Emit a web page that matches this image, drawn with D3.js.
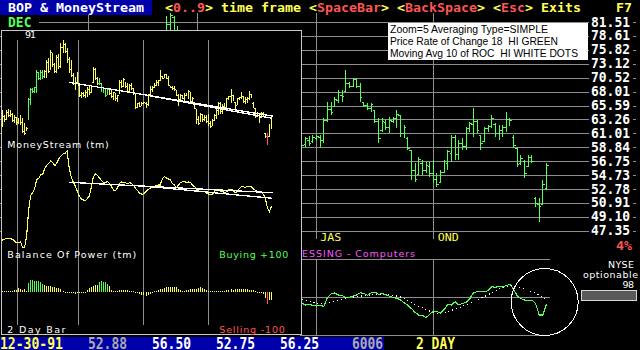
<!DOCTYPE html>
<html>
<head>
<meta charset="utf-8">
<script src="https://cdn.jsdelivr.net/npm/d3@7"></script>
<style>
  body { margin: 0; background: #000; }
  svg { display: block; }
  text { white-space: pre; }
</style>
</head>
<body>
<svg id="chart" width="640" height="350"></svg>
<script>
// ---- data: 2-day bars, oldest first (last bar = 12-30-91) ----
const high = [58.3,56.8,58.3,58.5,58.3,57.3,56.8,56.3,56.0,56.8,
  55.8,54.4,53.4,62.0,65.4,65.4,65.9,72.0,71.3,72.0,
  71.8,72.0,75.9,76.6,80.0,78.6,74.6,77.9,78.5,83.0,
  84.3,82.8,80.7,77.2,76.0,70.7,69.5,71.3,67.1,64.2,
  64.0,64.8,65.9,66.5,66.5,73.2,72.6,69.5,68.9,67.1,
  65.9,65.4,65.6,65.4,64.8,64.2,63.5,63.1,68.3,68.3,
  68.9,67.7,67.1,66.8,67.1,65.4,
  63.60,60.53,60.68,60.84,60.84,60.84,63.60,66.30,66.30,67.17,
  68.41,68.41,72.06,69.85,70.58,70.58,69.67,66.30,66.13,66.13,
  64.93,63.60,63.60,63.27,63.76,63.76,64.93,64.09,62.45,60.53,
  58.51,56.56,57.45,57.01,56.71,56.71,57.01,55.11,55.54,57.01,
  58.51,60.84,60.84,60.05,60.37,62.12,62.94,65.27,63.27,60.84,
  62.12,62.45,64.09,62.77,62.45,62.45,64.60,63.60,60.84,58.82,
  57.75,57.01,57.75,57.75,51.77,51.64,54.12,56.50];
const low = [53.4,54.8,55.3,56.3,56.1,54.8,54.4,53.9,54.2,53.9,
  51.6,51.1,52.3,55.3,59.9,63.7,63.7,63.7,68.3,68.3,
  68.6,68.9,68.9,70.7,72.0,73.2,70.7,70.7,72.5,72.6,
  78.6,78.6,74.6,71.0,69.5,66.5,64.8,67.1,62.5,62.0,
  62.3,62.0,62.5,63.1,63.7,67.1,68.3,66.5,66.5,64.2,
  63.7,62.5,63.0,63.1,62.0,61.5,61.2,60.9,63.7,65.4,
  65.9,65.4,63.7,63.9,64.8,63.1,
  58.51,58.97,59.13,59.59,60.05,58.97,59.59,62.94,64.09,65.44,
  66.13,66.30,68.05,68.76,68.94,68.76,66.30,65.44,64.93,64.60,
  62.77,59.59,61.32,61.64,61.16,62.77,61.96,60.53,60.37,58.51,
  54.12,53.83,54.82,54.82,55.11,54.54,53.69,53.14,53.69,55.11,
  55.54,56.71,57.01,57.01,58.51,58.51,61.32,60.53,61.16,58.51,
  59.74,61.32,61.96,60.53,60.05,60.53,61.32,62.28,58.82,55.98,
  56.27,54.40,55.98,56.56,50.44,48.51,50.71,52.75];
const open = [54.0,56.5,55.5,57.6,56.8,57.0,55.3,56.0,54.5,55.5,
  54.6,52.2,52.5,55.5,60.5,64.5,64.0,65.0,70.5,69.0,
  71.0,69.5,71.0,75.0,72.0,78.0,74.0,71.5,76.5,73.5,
  81.0,82.5,79.5,76.0,72.0,70.0,67.0,67.5,66.5,63.0,
  63.5,62.8,64.0,65.0,64.0,67.5,72.0,69.0,67.0,67.0,
  64.8,65.0,63.2,65.0,63.5,62.5,63.5,61.5,63.7,67.5,
  66.0,67.5,66.0,64.5,66.5,65.0,
  63.0,59.3,60.0,59.8,60.3,60.5,60.0,63.2,65.0,65.5,
  66.5,67.5,68.2,69.5,69.0,70.2,69.0,66.2,65.6,65.2,
  64.9,63.0,61.5,62.8,62.0,63.0,63.5,64.0,61.0,60.3,
  58.5,55.5,54.9,56.5,55.5,56.0,55.0,54.2,53.8,55.2,
  56.5,58.0,60.5,57.8,59.5,59.0,61.8,62.5,63.0,60.8,
  59.8,61.8,62.2,62.5,61.0,61.5,62.0,63.4,60.5,58.7,
  56.5,56.8,56.0,57.3,51.6,50.8,50.8,52.88];
const close = [57.5,55.5,57.8,56.8,57.9,55.2,56.0,54.3,55.6,54.5,
  52.0,51.6,53.0,61.5,64.8,64.2,65.5,71.0,69.0,71.2,
  69.5,71.5,75.0,71.5,79.0,74.0,71.5,77.0,73.5,81.0,
  83.0,79.5,75.5,72.0,70.5,67.0,65.5,70.5,63.0,63.5,
  62.8,64.2,65.0,63.8,66.0,72.5,69.0,67.0,68.2,64.8,
  65.2,63.0,65.0,63.5,62.5,63.8,61.8,62.8,67.5,66.0,
  68.5,66.0,64.2,66.5,65.2,63.5,
  59.2,60.2,59.5,60.4,60.6,60.0,63.2,65.0,64.5,66.8,
  67.9,67.2,69.5,69.0,70.2,69.0,67.0,65.6,65.2,65.9,
  63.0,60.2,63.0,62.0,63.2,63.5,64.2,61.0,62.0,58.8,
  55.5,54.2,57.0,55.5,56.2,55.0,54.2,53.5,55.2,56.8,
  58.2,60.5,57.8,59.5,59.0,61.8,62.6,63.0,61.5,59.5,
  61.8,62.2,63.5,61.0,61.5,62.0,63.4,63.2,59.2,56.3,
  57.2,55.0,57.3,56.8,50.9,50.5,53.5,56.25];

const moneyStream = [10,10.7,11.7,11.7,11.3,10.7,9,7.3,7.3,8.3,
  2.7,2.7,13.3,40,54.3,57.3,61.7,70.7,71.7,75,
  76,81.7,85,86.7,89.3,87.3,84,87.3,91.7,94,
  96,96.7,99.3,83.3,73.3,68.3,64,59.3,54,51,
  50,49.3,51.3,54,63.3,73.3,76,74.7,72,69.3,
  67.7,67.7,68.3,66.7,63.3,60,59.3,62.7,66.7,68,
  67.7,67,66.7,67.3,66,64,61.3,59,56.7,55.7,
  56.3,58.3,60.3,61.7,63,63.3,64.3,65,65,70.7,
  73.3,72.3,71,70,66.7,65,62.3,65,67.3,68.3,
  68.3,67.7,68,67.3,65,63.3,60.7,58.7,58.7,58.7,
  58.3,57,55.7,55,56.3,59.3,60,59.3,58.7,58.3,
  57.3,58.7,60.3,60.7,59.7,57.3,58.3,61,63,63.3,
  62.7,63.3,63.7,63.3,61.3,59.7,58.3,57.7,57.3,55.7,
  51.7,41.7,38.3,44];

// Balance Of Power, -100 (selling) .. +100 (buying)
const bop = [3,3,3,3,5,5,7,7,13,10,
  7,10,3,30,40,40,37,37,37,34,
  29,24,22,21,20,19,18,16,13,10,
  4,2,0,-3,-3,-4,-5,-4,-3,-3,
  -3,2,7,13,17,20,23,25,34,37,
  34,34,28,20,7,4,4,5,7,7,
  7,7,7,5,5,3,2,-3,-7,-8,
  -10,-13,-10,-5,2,3,5,7,10,12,
  13,17,18,18,17,17,18,10,7,5,
  5,7,7,10,12,10,10,13,17,13,
  10,7,3,3,3,3,5,3,3,3,
  5,7,8,10,8,10,12,10,12,10,
  10,10,8,7,7,5,2,0,-3,-5,
  -20,-40,-27,-25];

// price rate of change 18 and its 10 bar average, from bar rocStart on
const rocStart = 66;
const roc = [-5.8,-7.4,-6.8,-7.7,-8.3,-7.4,-8.9,-0.3,2.8,3.7,
  1.8,1.5,-0.6,-0.3,0.9,1.8,4.0,3.1,1.5,4.0,
  4.6,2.5,3.1,2.1,0.6,-0.3,-1.2,-2.8,-5.2,-7.7,
  -10.7,-14.1,-16.6,-16.9,-19.0,-16.0,-12.9,-13.5,-14.7,-11.4,
  -6.8,-7.4,-4.3,-7.4,-5.8,-5.2,-1.5,4.0,4.9,4.9,
  4.9,5.8,9.5,8.9,9.8,9.2,10.7,11.4,7.1,0.9,
  -1.5,-2.8,-3.1,-2.8,-5.8,-16.6,-16.6,-6.4];
const rocAvg = [-2.1,-3.1,-4.0,-4.9,-5.8,-6.1,-5.8,-5.2,-4.6,-3.7,
  -2.8,-2.1,-1.5,-0.6,0,0.3,0.9,1.2,1.5,2.1,
  2.5,2.8,2.8,2.5,2.1,1.5,0.9,0,-1.5,-3.1,
  -4.9,-6.8,-8.6,-10.1,-11.7,-12.9,-14.1,-15.0,-14.7,-14.4,
  -13.5,-12.3,-11.0,-9.8,-8.6,-7.4,-5.8,-4.3,-2.8,-1.2,
  0.6,2.1,4.0,5.8,7.4,8.6,9.5,10.4,10.1,9.2,
  8.3,7.1,6.1,4.9,3.4,1.5,-0.3,-2.8];

const priceTicks = [81.51,78.61,75.82,73.12,70.52,68.01,65.59,63.26,61.01,58.84,56.75,54.73,52.78,50.91,49.10,47.35];
const quarterIdx = [7.4, 37.5, 69.9, 102.1];
const quarterLabels = ["JFM", "AMJ", "JAS", "OND"];
// trend lines as [[bar, value], [bar, value]]
const priceTrend = [[[32.8, 67.5], [133.5, 56.5]], [[70, 63.2], [133.5, 55.8]]];
const msTrend = [[[32.8, 67.7], [133.5, 57.3]], [[70, 63.9], [133.5, 51.7]]];
const circleAt = [132.5, -4.6];
const statusText = ["12-30-91", "52.88", "56.50", "52.75", "56.25", "6006"];
const statusCol = [0, 11, 19, 27, 35, 44];
const infoLines = ["Zoom=5 Averaging Type=SIMPLE", "Price Rate of Change 18  HI GREEN", "Moving Avg 10 of ROC  HI WHITE DOTS"];
const infoWidth = [158, 168, 188];

const C = {yellow: "#ffff55", red: "#ff5555", green: "#55ff55", magenta: "#ff55ff",
  grid: "#8e8e8e", blue: "#0000aa", gray: "#aaaaaa"};
const N = high.length;

const svg = d3.select("#chart").attr("shape-rendering", "crispEdges");
svg.append("rect").attr("width", 640).attr("height", 350).attr("fill", "#000");

const xMain = d3.scaleLinear().domain([0, N - 1]).range([61, 546.5]);
const yMain = d3.scaleLog().domain([47.35, 81.51]).range([231.3, 22.5]);
const xIn = d3.scaleLinear().domain([0, N - 1]).range([2.3, 271.5]);
const yIn = d3.scaleLog().domain([47.35, 81.51]).range([149.6, 46.4]);
const yMs = d3.scaleLinear().domain([0, 100]).range([250, 150]);
const yBop = d3.scaleLinear().domain([-100, 100]).range([322, 262.6]);
const yRoc = d3.scaleLinear().domain([-35, 35]).range([335, 259]);

function label(g, x, y, s, o) {
    let t = g.append("text").attr("x", x).attr("y", y).text(s)
        .attr("fill", o.fill || "#fff")
        .attr("font-family", o.mono ? "DejaVu Sans Mono" : "DejaVu Sans")
        .attr("font-weight", o.mono && !o.thin ? "bold" : "normal")
        .attr("font-size", o.size || 9.5);
    if (o.len) t.attr("textLength", o.len).attr("lengthAdjust", o.mono ? "spacingAndGlyphs" : "spacing");
    if (o.anchor) t.attr("text-anchor", o.anchor);
    return t;
}

function barPath(xs, ys, i, tick) {
    let x = xs(i);
    return "M" + x + "," + ys(high[i]) + "V" + ys(low[i]) +
        "M" + (x - tick) + "," + ys(open[i]) + "H" + x +
        "M" + x + "," + ys(close[i]) + "H" + (x + tick);
}

function barColor(i) {
    if (bop[i] >= 28) return C.green;
    if (bop[i] <= -30) return C.red;
    return C.yellow;
}

// ---- main (background) price chart ----
svg.append("clipPath").attr("id", "mainClip").append("rect")
    .attr("x", 0).attr("y", 13).attr("width", 640).attr("height", 228);
let main = svg.append("g").attr("clip-path", "url(#mainClip)");

main.selectAll(".hgrid").data(priceTicks).enter().append("line")
    .attr("x1", 0).attr("x2", 636)
    .attr("y1", d => yMain(d)).attr("y2", d => yMain(d))
    .attr("stroke", C.grid);
main.selectAll(".vgrid").data(quarterIdx).enter().append("line")
    .attr("x1", d => xMain(d)).attr("x2", d => xMain(d))
    .attr("y1", 13).attr("y2", 239)
    .attr("stroke", C.grid);
main.selectAll(".bar").data(d3.range(N)).enter().append("path")
    .attr("d", i => barPath(xMain, yMain, i, 2))
    .attr("fill", "none").attr("stroke", C.green);

// right hand price axis
priceTicks.forEach(function (p) {
    svg.append("rect").attr("x", 589).attr("y", yMain(p) - 6.5).attr("width", 44).attr("height", 12).attr("fill", "#000");
    label(svg, 591, yMain(p) + 4, p.toFixed(2), {mono: true, size: 13.5, len: 39});
});
// only the quarters right of the inset show their label
quarterIdx.forEach(function (q, k) {
    if (xMain(q) > 302) label(svg, xMain(q) + 4, 241, quarterLabels[k], {fill: C.yellow, mono: true, thin: true, size: 11, len: 21});
});
label(svg, 632, 250, "4%", {mono: true, size: 11.5, len: 16, fill: C.red, anchor: "end"});
label(svg, 302, 256.5, "ESSING - Computers", {fill: C.magenta, len: 113});

// ---- rate of change panel ----
let rocG = svg.append("g");
[-35, 0, 35].forEach(function (v) {
    rocG.append("line").attr("x1", 300).attr("x2", 550)
        .attr("y1", yRoc(v)).attr("y2", yRoc(v)).attr("stroke", C.grid);
});
quarterIdx.forEach(function (q) {
    rocG.append("line").attr("x1", xMain(q)).attr("x2", xMain(q))
        .attr("y1", yRoc(35)).attr("y2", yRoc(-35)).attr("stroke", C.grid);
});
rocG.append("path").datum(rocAvg)
    .attr("d", d3.line().x((d, k) => xMain(rocStart + k)).y(d => yRoc(d)))
    .attr("fill", "none").attr("stroke", "#fff").attr("stroke-width", 1.2)
    .attr("stroke-dasharray", "1,3");
rocG.append("path").datum(roc)
    .attr("d", d3.line().x((d, k) => xMain(rocStart + k)).y(d => yRoc(d)))
    .attr("fill", "none").attr("stroke", C.green).attr("stroke-width", 1.1);
rocG.append("circle").attr("cx", xMain(circleAt[0])).attr("cy", yRoc(circleAt[1])).attr("r", 33.5)
    .attr("fill", "none").attr("stroke", "#fff");

label(svg, 634, 268.3, "NYSE", {len: 26, anchor: "end"});
label(svg, 638, 278.3, "optionable", {len: 55, anchor: "end"});
label(svg, 634, 288.3, "98", {len: 11.5, anchor: "end"});
svg.append("rect").attr("x", 581.5).attr("y", 290.5).attr("width", 55).attr("height", 10)
    .attr("fill", "#5a5a5a").attr("stroke", "#d8d8d8");

// settings box
svg.append("rect").attr("x", 388).attr("y", 22.7).attr("width", 200).attr("height", 37.5).attr("fill", "#fff");
infoLines.forEach(function (s, k) {
    svg.append("text").attr("x", 390).attr("y", 33.3 + k * 11.8).text(s)
        .attr("font-family", "Liberation Sans, Arial, sans-serif").attr("font-size", 11)
        .attr("textLength", infoWidth[k]).attr("lengthAdjust", "spacingAndGlyphs")
        .attr("fill", "#000");
});

// ---- header ----
svg.append("rect").attr("x", 0).attr("y", 14).attr("width", 39).attr("height", 15).attr("fill", "#000");
label(svg, 8, 27.3, "DEC", {mono: true, size: 14, len: 23.5, fill: C.green});
svg.append("rect").attr("x", 0).attr("y", 0).attr("width", 152).attr("height", 14.5).attr("fill", C.blue);
label(svg, 8, 11.8, "BOP & MoneyStream", {mono: true, size: 12.5, len: 136});
let head = label(svg, 165, 11.8, "", {mono: true, size: 12.5, len: 416});
[["<", C.yellow], ["0..9", C.red], ["> time frame <", C.yellow], ["SpaceBar", C.red], ["> <", C.yellow],
 ["BackSpace", C.red], ["> <", C.yellow], ["Esc", C.red], ["> Exits", C.yellow]].forEach(function (p) {
    head.append("tspan").text(p[0]).attr("fill", p[1]);
});
label(svg, 616, 11.8, "F7", {mono: true, size: 12.5, len: 16, fill: C.yellow});

// ---- inset: price, MoneyStream, Balance Of Power ----
let inset = svg.append("g");
inset.append("rect").attr("x", 1.7).attr("y", 30.3).attr("width", 300).attr("height", 304)
    .attr("fill", "#000").attr("stroke", "#c8c8c8").attr("stroke-width", 1.3);
inset.selectAll(".ivgrid").data(quarterIdx).enter().append("line")
    .attr("x1", d => xIn(d)).attr("x2", d => xIn(d))
    .attr("y1", 40).attr("y2", 325).attr("stroke", C.grid);
label(inset, 25, 38.3, "91", {len: 11});

inset.selectAll(".ibar").data(d3.range(N)).enter().append("path")
    .attr("d", i => barPath(xIn, yIn, i, 1))
    .attr("fill", "none").attr("stroke", i => barColor(i));
priceTrend.forEach(function (t) {
    inset.append("line").attr("x1", xIn(t[0][0])).attr("y1", yIn(t[0][1]))
        .attr("x2", xIn(t[1][0])).attr("y2", yIn(t[1][1]))
        .attr("stroke", "#fff").attr("stroke-width", 1.3);
});

label(inset, 7.3, 148.3, "MoneyStream (tm)", {len: 101.5});
inset.append("path").datum(moneyStream)
    .attr("d", d3.line().x((d, k) => xIn(k)).y(d => yMs(d)))
    .attr("fill", "none").attr("stroke", C.yellow).attr("stroke-width", 1.1);
msTrend.forEach(function (t) {
    inset.append("line").attr("x1", xIn(t[0][0])).attr("y1", yMs(t[0][1]))
        .attr("x2", xIn(t[1][0])).attr("y2", yMs(t[1][1]))
        .attr("stroke", "#fff").attr("stroke-width", 1.3);
});

label(inset, 7.3, 258.3, "Balance Of Power (tm)", {len: 129});
label(inset, 219.3, 258.3, "Buying +100", {len: 69, fill: C.green});
label(inset, 7.3, 332.7, "2 Day Bar", {len: 58});
label(inset, 219.3, 332.7, "Selling -100", {len: 65.5, fill: C.red});
inset.selectAll(".bop").data(bop).enter().append("rect")
    .attr("x", (d, i) => xIn(i) - 0.5).attr("width", 1)
    .attr("y", d => Math.min(yBop(d), yBop(0)))
    .attr("height", d => Math.max(1, Math.abs(yBop(d) - yBop(0))))
    .attr("fill", (d, i) => barColor(i));

// ---- status line ----
svg.append("rect").attr("x", 0).attr("y", 337).attr("width", 384).attr("height", 13).attr("fill", C.blue);
let statusFill = [C.yellow, C.gray, "#fff", "#fff", "#fff", C.gray];
statusText.forEach(function (s, k) {
    label(svg, statusCol[k] * 8, 349, s, {mono: true, size: 15, len: s.length * 8 - 1, fill: statusFill[k]});
});
label(svg, 416, 349, "2 DAY", {mono: true, size: 15, len: 39, fill: C.yellow});
</script>
</body>
</html>
